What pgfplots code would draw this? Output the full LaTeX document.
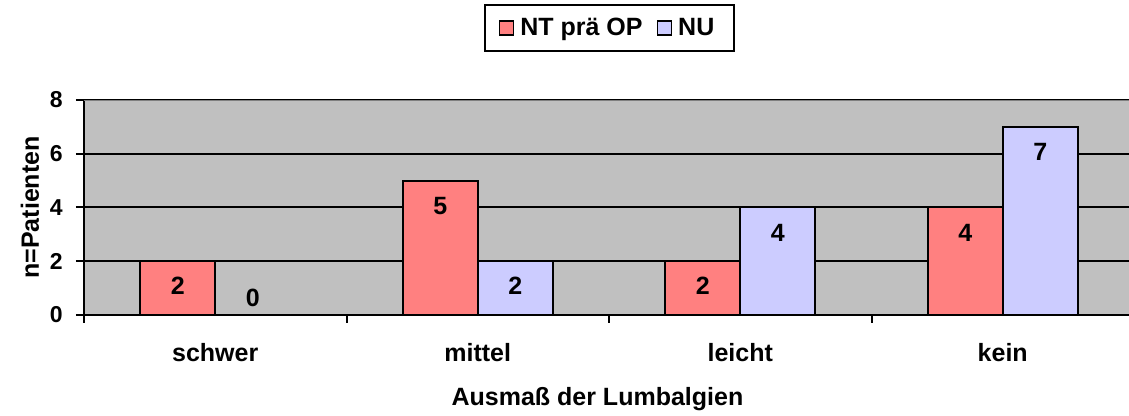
\documentclass[border=0pt]{standalone}
\usepackage{fontspec}
\setmainfont{Liberation Sans}
\usepackage{pgfplots}
\pgfplotsset{compat=1.18}
\definecolor{ntred}{HTML}{FF8080}
\definecolor{nublue}{HTML}{CCCCFF}
\definecolor{plotgray}{HTML}{C0C0C0}
\definecolor{edgegray}{HTML}{808080}
\newcommand{\lbl}{\fontsize{12.5}{15}\selectfont\bfseries}

\begin{document}
\begin{tikzpicture}[font=\lbl]
\useasboundingbox (-42pt,-50.5pt) rectangle (522.5pt,157.5pt);
\begin{axis}[
  at={(0,0)}, anchor=south west,
  scale only axis, width=525pt, height=107.5pt,
  ybar=0pt, bar width=0.2855,
  xmin=-0.5, xmax=3.5, ymin=0, ymax=8,
  axis x line*=bottom, axis y line*=left,
  axis line style={line width=1pt, black},
  axis background/.style={fill=plotgray},
  xtick={0,1,2,3}, xticklabels={schwer,mittel,leicht,kein},
  minor xtick={-0.5,0.5,1.5,2.5,3.5},
  major x tick style={draw=none},
  ytick={0,2,4,6,8},
  tick align=outside, major tick length=4pt, minor tick length=4pt,
  tick style={line width=1pt, black},
  ymajorgrids, major grid style={line width=1pt, black},
  /pgf/number format/assume math mode=true,
  xticklabel style={font=\lbl, anchor=base, yshift=-19.5pt},
  yticklabel style={font=\fontsize{11.5}{13}\selectfont\bfseries, anchor=east, inner sep=0pt, xshift=-6.5pt},
  xlabel={Ausmaß der Lumbalgien},
  ylabel={n=Patienten},
  every axis x label/.style={at={(rel axis cs:0.489,0)}, anchor=base, yshift=-45.5pt, font=\lbl},
  every axis y label/.style={at={(rel axis cs:0,0.5)}, xshift=-22.5pt, rotate=90, anchor=base, font=\lbl},
  legend columns=2,
  legend style={at={(0.5005,1.4466)}, anchor=north, draw=black, line width=1pt, fill=white,
    font=\lbl, inner xsep=7pt, inner ysep=4.5pt, nodes={inner xsep=3pt, inner ysep=2pt},
    /tikz/every even column/.append style={column sep=4pt}},
  legend image code/.code={\draw[#1, draw=black, line width=0.8pt] (0pt,-3.5pt) rectangle (7pt,3.5pt);},
  visualization depends on={rawy \as \rawy},
  nodes near coords,
  every node near coord/.append style={font=\lbl, anchor=center, yshift={ifthenelse(\rawy==0,8.5pt,-12.5pt)}},
]
\addplot[fill=ntred, draw=black, line width=1pt] coordinates {(0,2) (1,5) (2,2) (3,4)};
\addplot[fill=nublue, draw=black, line width=1pt] coordinates {(0,0) (1,2) (2,4) (3,7)};
\legend{NT prä OP, NU}
\draw[edgegray, line width=1pt] (rel axis cs:0,1) -- (rel axis cs:1,1);
\end{axis}
\end{tikzpicture}
\end{document}
